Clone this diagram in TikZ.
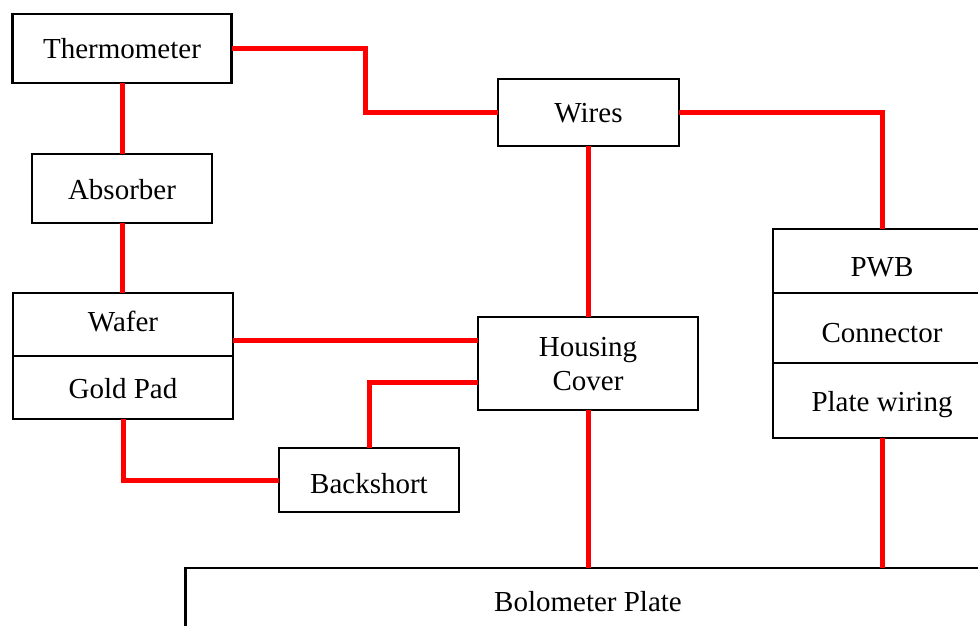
\documentclass[tikz,border=0pt]{standalone}
\usepackage{fontspec}
\setmainfont{Liberation Serif}
\begin{document}
\begin{tikzpicture}[x=1pt,y=-1pt,
  box/.style={draw=black,line width=2.9pt,fill=white,rectangle,inner sep=0pt,outer sep=0pt,
    font=\fontsize{29}{34}\selectfont,align=center,text depth=0pt},
  wire/.style={draw=red,line width=5pt}]
\useasboundingbox (0,0) rectangle (978,626);
\clip (0,0) rectangle (978,626);
% boxes
\node[box,minimum width=219pt,minimum height=69pt,text height=20pt] (thermo) at (122,48.5) {Thermometer};
\node[box,minimum width=180pt,minimum height=69pt,text height=22pt] (absorber) at (122,188.5) {Absorber};
\node[box,minimum width=220pt,minimum height=63pt,text height=14pt] (wafer) at (123,324.5) {Wafer};
\node[box,minimum width=220pt,minimum height=63pt,text height=22pt] (gold) at (123,387.5) {Gold Pad};
\node[box,minimum width=181pt,minimum height=67pt,text height=20pt] (wires) at (588.5,112.5) {Wires};
\node[box,minimum width=220pt,minimum height=93pt,text depth=-4pt] (housing) at (588,363.5) {Housing\\Cover};
\node[box,minimum width=180pt,minimum height=64pt,text height=27pt] (backshort) at (369,480) {Backshort};
\node[box,minimum width=218pt,minimum height=64pt,text height=31pt] (pwb) at (882,261) {PWB};
\node[box,minimum width=218pt,minimum height=70pt,text height=29pt] (connector) at (882,328) {Connector};
\node[box,minimum width=218pt,minimum height=75pt,text height=22pt] (platewiring) at (882,400.5) {Plate wiring};
\node[box,minimum width=805pt,minimum height=68pt,text height=19pt] (plate) at (588,602) {Bolometer Plate};
% helper coordinates
\coordinate (c1) at (365,80);
\coordinate (h1) at ([yshift=23.5pt]housing.west);
\coordinate (h2) at ([yshift=-18.5pt]housing.west);
% connectors
\draw[wire] (thermo.east) -| (c1) |- (wires.west);
\draw[wire] (wires.east) -| (pwb.north);
\draw[wire] (thermo.south) -- (absorber.north);
\draw[wire] (absorber.south) -- (absorber.south |- wafer.north);
\draw[wire] (wafer.east |- h1) -- (h1);
\draw[wire] (h2) -| (backshort.north);
\draw[wire] (gold.south) |- (backshort.west);
\draw[wire] (wires.south) -- (wires.south |- housing.north);
\draw[wire] (housing.south) -- (housing.south |- plate.north);
\draw[wire] (platewiring.south) -- (platewiring.south |- plate.north);
\end{tikzpicture}
\end{document}
